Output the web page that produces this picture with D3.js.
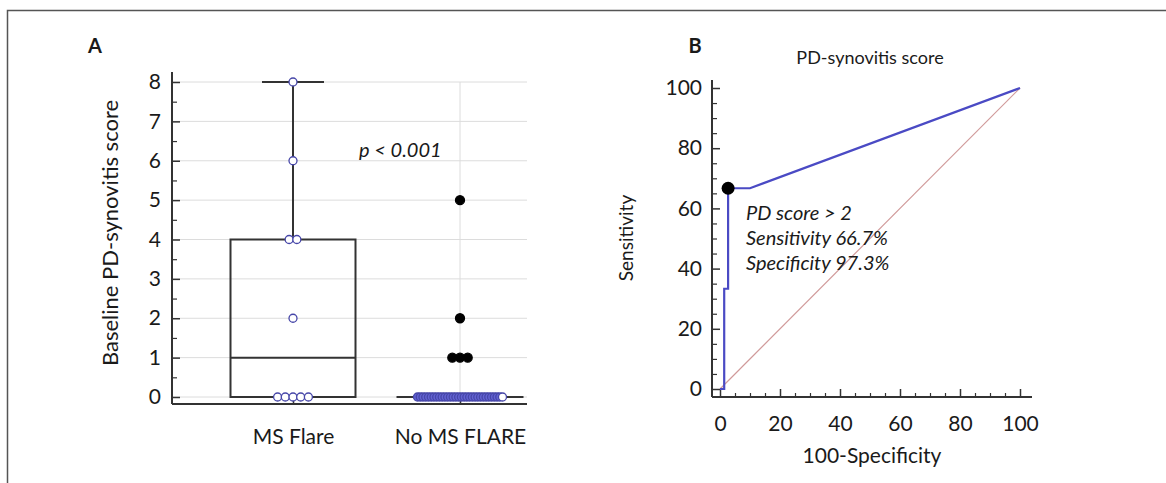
<!DOCTYPE html>
<html>
<head>
<meta charset="utf-8">
<script src="https://cdn.jsdelivr.net/npm/d3@7"></script>
<style>
  body { margin: 0; background: #fff; }
  text { font-family: Lato, "Open Sans", sans-serif; fill: #1a1a1a; }
</style>
</head>
<body>
<div id="chart"></div>
<script>
// panel A data: baseline scores per group
var groups = ["MS Flare", "No MS FLARE"];
var flareScores = [8, 6, 4, 4, 2, 0, 0, 0, 0, 0];
var noFlareScores = [5, 2, 1, 1, 1, 0, 0, 0, 0, 0, 0, 0, 0, 0, 0, 0, 0, 0, 0, 0, 0, 0, 0, 0, 0, 0, 0, 0, 0, 0, 0, 0, 0, 0, 0, 0, 0];
var scoreTicks = [0, 1, 2, 3, 4, 5, 6, 7, 8];

// panel B data: ROC curve
var rocX = [0, 1.4, 1.4, 2.7, 2.7, 10, 100];
var rocY = [0, 0, 33.3, 33.3, 66.7, 66.7, 100];
var cutX = [2.7];
var cutY = [66.7];
var rocTicks = [0, 20, 40, 60, 80, 100];
var noteLines = ["PD score > 2", "Sensitivity 66.7%", "Specificity 97.3%"];

var W = 1166, H = 483;
var svg = d3.select("#chart").append("svg")
  .attr("width", W)
  .attr("height", H);

// outer frame (top and left only)
svg.append("path")
  .attr("d", "M7.5," + H + "V10.5H" + W)
  .attr("fill", "none")
  .attr("stroke", "#555")
  .attr("stroke-width", 1.5);

function styleTicks(g, size) {
  g.selectAll("text").style("font-size", size + "px").attr("fill", "#1a1a1a")
    .style("font-family", "Lato, sans-serif");
}

/* ---------- panel A ---------- */
var yA = d3.scaleLinear().domain([0, 8]).range([397, 82]);
var xA = d3.scalePoint().domain(groups).range([293, 460]);
var axLeftA = 172, axRightA = 527, axBottomA = 404;

var gA = svg.append("g");

// grid
gA.selectAll(".hgrid").data(scoreTicks).enter().append("line")
  .attr("x1", axLeftA).attr("x2", axRightA)
  .attr("y1", function(d) { return yA(d); })
  .attr("y2", function(d) { return yA(d); })
  .attr("stroke", "#dcdcdc").attr("stroke-width", 1);
gA.append("line")
  .attr("x1", xA(groups[1])).attr("x2", xA(groups[1]))
  .attr("y1", yA(8)).attr("y2", axBottomA)
  .attr("stroke", "#dcdcdc").attr("stroke-width", 1);

// y axis
var yAxisA = gA.append("g")
  .attr("transform", "translate(" + axLeftA + ",0)")
  .call(d3.axisLeft(yA).tickValues(scoreTicks).tickSizeInner(-8).tickSizeOuter(0).tickPadding(11));
yAxisA.select(".domain").remove();
yAxisA.selectAll(".tick line").attr("stroke", "#333").attr("stroke-width", 1.5);
styleTicks(yAxisA, 21);
var minorA = gA.append("g")
  .attr("transform", "translate(" + axLeftA + ",0)")
  .call(d3.axisLeft(yA).tickValues(d3.range(0.5, 8, 1)).tickSizeInner(-5).tickSizeOuter(0).tickFormat(""));
minorA.select(".domain").remove();
minorA.selectAll("line").attr("stroke", "#333").attr("stroke-width", 1.2);

gA.append("line")
  .attr("x1", axLeftA).attr("x2", axLeftA)
  .attr("y1", 72).attr("y2", axBottomA)
  .attr("stroke", "#333").attr("stroke-width", 2);
gA.append("line")
  .attr("x1", axLeftA).attr("x2", axRightA)
  .attr("y1", axBottomA).attr("y2", axBottomA)
  .attr("stroke", "#333").attr("stroke-width", 2);

// x axis category ticks + labels
var xAxisA = gA.append("g")
  .attr("transform", "translate(0," + axBottomA + ")")
  .call(d3.axisBottom(xA).tickSizeInner(-6).tickSizeOuter(0).tickPadding(25));
xAxisA.select(".domain").remove();
xAxisA.selectAll(".tick line").attr("stroke", "#333").attr("stroke-width", 1.5)
  .attr("y2", 0).attr("y1", -6);
styleTicks(xAxisA, 21);

// box plots
var boxW = 125;
[flareScores, noFlareScores].forEach(function(vals, gi) {
  var s = vals.slice().sort(d3.ascending);
  var q1 = d3.quantile(s, 0.25), med = d3.quantile(s, 0.5), q3 = d3.quantile(s, 0.75);
  var iqr = q3 - q1;
  var inside = s.filter(function(v) { return v >= q1 - 1.5 * iqr && v <= q3 + 1.5 * iqr; });
  var lo = d3.min(inside), hi = d3.max(inside);
  var cx = xA(groups[gi]);
  var box = gA.append("g").attr("stroke", "#333").attr("stroke-width", 2).attr("fill", "none");
  if (hi > q3) {
    box.append("line").attr("x1", cx).attr("x2", cx).attr("y1", yA(q3)).attr("y2", yA(hi));
    box.append("line").attr("x1", cx - 31).attr("x2", cx + 31).attr("y1", yA(hi)).attr("y2", yA(hi));
  }
  if (lo < q1) {
    box.append("line").attr("x1", cx).attr("x2", cx).attr("y1", yA(q1)).attr("y2", yA(lo));
  }
  box.append("rect")
    .attr("x", cx - boxW / 2).attr("width", boxW)
    .attr("y", yA(q3)).attr("height", Math.max(0.01, yA(q1) - yA(q3)));
  box.append("line").attr("x1", cx - boxW / 2).attr("x2", cx + boxW / 2)
    .attr("y1", yA(med)).attr("y2", yA(med));

  // dots, spread sideways when values repeat
  var counts = d3.rollup(vals, function(v) { return v.length; }, function(v) { return v; });
  var seen = new Map();
  var pts = vals.map(function(v) {
    var n = counts.get(v);
    var i = seen.get(v) || 0;
    seen.set(v, i + 1);
    var step = n > 1 ? Math.min(7.7, 85 / (n - 1)) : 0;
    var out = v < lo || v > hi;
    return { v: v, dx: (i - (n - 1) / 2) * step, out: out, dense: n > 12 };
  });
  gA.selectAll(".pt" + gi).data(pts).enter().append("circle")
    .attr("cx", function(d) { return cx + d.dx; })
    .attr("cy", function(d) { return yA(d.v); })
    .attr("r", function(d) { return d.out ? 4.5 : 4; })
    .attr("fill", function(d, i) {
      if (d.out) return "#000";
      if (d.dense && i < pts.length - 1) return "#6262d2";
      return "#fff";
    })
    .attr("stroke", function(d) { return d.out ? "#000" : "#4646a8"; })
    .attr("stroke-width", 1.3);
});

gA.append("text")
  .attr("x", 359).attr("y", 157)
  .style("font-size", "20px").style("font-style", "italic")
  .text("p < 0.001");

gA.append("text")
  .attr("transform", "translate(118," + 233 + ") rotate(-90)")
  .attr("text-anchor", "middle")
  .style("font-size", "22px")
  .text("Baseline PD-synovitis score");

gA.append("text")
  .attr("x", 95).attr("y", 53)
  .attr("text-anchor", "middle")
  .style("font-size", "20px").style("font-weight", "bold")
  .text("A");

/* ---------- panel B ---------- */
var xB = d3.scaleLinear().domain([0, 100]).range([720, 1020]);
var yB = d3.scaleLinear().domain([0, 100]).range([389, 88]);
var axLeftB = 712, axBottomB = 397;
var gB = svg.append("g");

var yAxisB = gB.append("g")
  .attr("transform", "translate(" + axLeftB + ",0)")
  .call(d3.axisLeft(yB).tickValues(rocTicks).tickSizeInner(-8).tickSizeOuter(0).tickPadding(10));
yAxisB.select(".domain").remove();
yAxisB.selectAll(".tick line").attr("stroke", "#333").attr("stroke-width", 1.5);
styleTicks(yAxisB, 21);
var minorYB = gB.append("g")
  .attr("transform", "translate(" + axLeftB + ",0)")
  .call(d3.axisLeft(yB).tickValues(d3.range(5, 100, 5).filter(function(v) { return v % 20; })).tickSizeInner(-5).tickSizeOuter(0).tickFormat(""));
minorYB.select(".domain").remove();
minorYB.selectAll("line").attr("stroke", "#333").attr("stroke-width", 1.2);

var xAxisB = gB.append("g")
  .attr("transform", "translate(0," + axBottomB + ")")
  .call(d3.axisBottom(xB).tickValues(rocTicks).tickSizeInner(-8).tickSizeOuter(0).tickPadding(12));
xAxisB.select(".domain").remove();
xAxisB.selectAll(".tick line").attr("stroke", "#333").attr("stroke-width", 1.5);
styleTicks(xAxisB, 21);
xAxisB.selectAll("text").attr("y", 19);
var minorXB = gB.append("g")
  .attr("transform", "translate(0," + axBottomB + ")")
  .call(d3.axisBottom(xB).tickValues(d3.range(5, 100, 5).filter(function(v) { return v % 20; })).tickSizeInner(-4).tickSizeOuter(0).tickFormat(""));
minorXB.select(".domain").remove();
minorXB.selectAll("line").attr("stroke", "#333").attr("stroke-width", 1.2);

gB.append("line")
  .attr("x1", axLeftB).attr("x2", axLeftB)
  .attr("y1", 80).attr("y2", axBottomB)
  .attr("stroke", "#333").attr("stroke-width", 2);
gB.append("line")
  .attr("x1", axLeftB).attr("x2", 1032)
  .attr("y1", axBottomB).attr("y2", axBottomB)
  .attr("stroke", "#333").attr("stroke-width", 2);

// diagonal reference
gB.append("line")
  .attr("x1", xB(0)).attr("y1", yB(0))
  .attr("x2", xB(100)).attr("y2", yB(100))
  .attr("stroke", "#d09a9a").attr("stroke-width", 1.2);

// ROC curve
var rocPts = rocX.map(function(x, i) { return [x, rocY[i]]; });
gB.append("path")
  .datum(rocPts)
  .attr("d", d3.line().x(function(d) { return xB(d[0]); }).y(function(d) { return yB(d[1]); }))
  .attr("fill", "none")
  .attr("stroke", "#4a4ac4")
  .attr("stroke-width", 2.2);

gB.selectAll(".cut").data(cutX).enter().append("circle")
  .attr("cx", function(d) { return xB(d); })
  .attr("cy", function(d, i) { return yB(cutY[i]); })
  .attr("r", 6.5)
  .attr("fill", "#000");

gB.selectAll(".note").data(noteLines).enter().append("text")
  .attr("x", 746)
  .attr("y", function(d, i) { return 220 + i * 25; })
  .style("font-size", "20px").style("font-style", "italic")
  .text(function(d) { return d; });

gB.append("text")
  .attr("x", 870).attr("y", 64)
  .attr("text-anchor", "middle")
  .style("font-size", "18px")
  .text("PD-synovitis score");

gB.append("text")
  .attr("x", 872).attr("y", 463)
  .attr("text-anchor", "middle")
  .style("font-size", "21px")
  .text("100-Specificity");

gB.append("text")
  .attr("transform", "translate(633,238) rotate(-90)")
  .attr("text-anchor", "middle")
  .style("font-size", "19px")
  .text("Sensitivity");

gB.append("text")
  .attr("x", 695).attr("y", 53)
  .attr("text-anchor", "middle")
  .style("font-size", "20px").style("font-weight", "bold")
  .text("B");
</script>
</body>
</html>
